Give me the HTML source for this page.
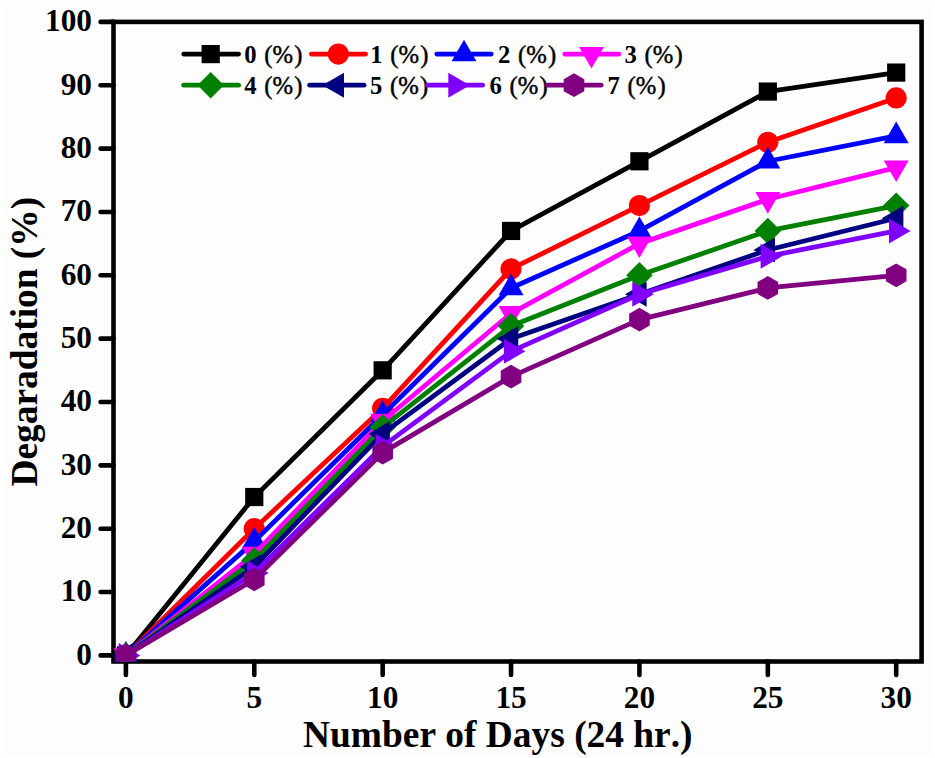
<!DOCTYPE html><html><head><meta charset="utf-8"><style>html,body{margin:0;padding:0;background:#fff;}svg{display:block;}text{font-family:"Liberation Serif",serif;font-weight:bold;fill:#000;font-kerning:none;}</style></head><body>
<svg width="935" height="758" viewBox="0 0 935 758">
<rect x="0" y="0" width="935" height="758" fill="#ffffff"/>
<rect x="2" y="2" width="931" height="753" fill="#fdfdfd"/>
<line x1="100.6" y1="655.40" x2="113.50" y2="655.40" stroke="#000" stroke-width="4.60" stroke-linecap="round"/>
<line x1="111.50" y1="655.40" x2="113.50" y2="655.40" stroke="#000" stroke-width="4.60"/>
<line x1="100.6" y1="592.05" x2="113.50" y2="592.05" stroke="#000" stroke-width="4.60" stroke-linecap="round"/>
<line x1="111.50" y1="592.05" x2="113.50" y2="592.05" stroke="#000" stroke-width="4.60"/>
<line x1="100.6" y1="528.70" x2="113.50" y2="528.70" stroke="#000" stroke-width="4.60" stroke-linecap="round"/>
<line x1="111.50" y1="528.70" x2="113.50" y2="528.70" stroke="#000" stroke-width="4.60"/>
<line x1="100.6" y1="465.35" x2="113.50" y2="465.35" stroke="#000" stroke-width="4.60" stroke-linecap="round"/>
<line x1="111.50" y1="465.35" x2="113.50" y2="465.35" stroke="#000" stroke-width="4.60"/>
<line x1="100.6" y1="402.00" x2="113.50" y2="402.00" stroke="#000" stroke-width="4.60" stroke-linecap="round"/>
<line x1="111.50" y1="402.00" x2="113.50" y2="402.00" stroke="#000" stroke-width="4.60"/>
<line x1="100.6" y1="338.65" x2="113.50" y2="338.65" stroke="#000" stroke-width="4.60" stroke-linecap="round"/>
<line x1="111.50" y1="338.65" x2="113.50" y2="338.65" stroke="#000" stroke-width="4.60"/>
<line x1="100.6" y1="275.30" x2="113.50" y2="275.30" stroke="#000" stroke-width="4.60" stroke-linecap="round"/>
<line x1="111.50" y1="275.30" x2="113.50" y2="275.30" stroke="#000" stroke-width="4.60"/>
<line x1="100.6" y1="211.95" x2="113.50" y2="211.95" stroke="#000" stroke-width="4.60" stroke-linecap="round"/>
<line x1="111.50" y1="211.95" x2="113.50" y2="211.95" stroke="#000" stroke-width="4.60"/>
<line x1="100.6" y1="148.60" x2="113.50" y2="148.60" stroke="#000" stroke-width="4.60" stroke-linecap="round"/>
<line x1="111.50" y1="148.60" x2="113.50" y2="148.60" stroke="#000" stroke-width="4.60"/>
<line x1="100.6" y1="85.25" x2="113.50" y2="85.25" stroke="#000" stroke-width="4.60" stroke-linecap="round"/>
<line x1="111.50" y1="85.25" x2="113.50" y2="85.25" stroke="#000" stroke-width="4.60"/>
<line x1="100.6" y1="21.90" x2="113.50" y2="21.90" stroke="#000" stroke-width="4.60" stroke-linecap="round"/>
<line x1="111.50" y1="21.90" x2="113.50" y2="21.90" stroke="#000" stroke-width="4.60"/>
<line x1="125.90" y1="661.50" x2="125.90" y2="674.9" stroke="#000" stroke-width="4.60" stroke-linecap="round"/>
<line x1="254.28" y1="661.50" x2="254.28" y2="674.9" stroke="#000" stroke-width="4.60" stroke-linecap="round"/>
<line x1="382.67" y1="661.50" x2="382.67" y2="674.9" stroke="#000" stroke-width="4.60" stroke-linecap="round"/>
<line x1="511.05" y1="661.50" x2="511.05" y2="674.9" stroke="#000" stroke-width="4.60" stroke-linecap="round"/>
<line x1="639.43" y1="661.50" x2="639.43" y2="674.9" stroke="#000" stroke-width="4.60" stroke-linecap="round"/>
<line x1="767.82" y1="661.50" x2="767.82" y2="674.9" stroke="#000" stroke-width="4.60" stroke-linecap="round"/>
<line x1="896.20" y1="661.50" x2="896.20" y2="674.9" stroke="#000" stroke-width="4.60" stroke-linecap="round"/>
<rect x="113.50" y="21.90" width="808.10" height="639.60" fill="none" stroke="#000" stroke-width="4.60"/>
<text x="92" y="664.80" font-size="31.3" text-anchor="end">0</text>
<text x="92" y="601.45" font-size="31.3" text-anchor="end">10</text>
<text x="92" y="538.10" font-size="31.3" text-anchor="end">20</text>
<text x="92" y="474.75" font-size="31.3" text-anchor="end">30</text>
<text x="92" y="411.40" font-size="31.3" text-anchor="end">40</text>
<text x="92" y="348.05" font-size="31.3" text-anchor="end">50</text>
<text x="92" y="284.70" font-size="31.3" text-anchor="end">60</text>
<text x="92" y="221.35" font-size="31.3" text-anchor="end">70</text>
<text x="92" y="158.00" font-size="31.3" text-anchor="end">80</text>
<text x="92" y="94.65" font-size="31.3" text-anchor="end">90</text>
<text x="92" y="31.30" font-size="31.3" text-anchor="end">100</text>
<text x="125.90" y="707.6" font-size="31.3" text-anchor="middle">0</text>
<text x="254.28" y="707.6" font-size="31.3" text-anchor="middle">5</text>
<text x="382.67" y="707.6" font-size="31.3" text-anchor="middle">10</text>
<text x="511.05" y="707.6" font-size="31.3" text-anchor="middle">15</text>
<text x="639.43" y="707.6" font-size="31.3" text-anchor="middle">20</text>
<text x="767.82" y="707.6" font-size="31.3" text-anchor="middle">25</text>
<text x="896.20" y="707.6" font-size="31.3" text-anchor="middle">30</text>
<text x="497.8" y="746.6" font-size="37.4" text-anchor="middle">Number of Days (24 hr.)</text>
<text transform="translate(37,341.7) rotate(-90)" x="0" y="0" font-size="37.4" text-anchor="middle">Degaradation (%)</text>
<defs><clipPath id="pc"><rect x="113.50" y="21.90" width="808.10" height="639.60"/></clipPath></defs><g clip-path="url(#pc)">
<polyline points="125.90,655.40 254.28,497.02 382.67,370.32 511.05,230.95 639.43,161.27 767.82,91.58 896.20,72.58" fill="none" stroke="#000000" stroke-width="4.80" stroke-linejoin="round" stroke-linecap="round"/>
<rect x="116.80" y="646.30" width="18.20" height="18.20" fill="#000000"/>
<rect x="245.18" y="487.92" width="18.20" height="18.20" fill="#000000"/>
<rect x="373.57" y="361.22" width="18.20" height="18.20" fill="#000000"/>
<rect x="501.95" y="221.85" width="18.20" height="18.20" fill="#000000"/>
<rect x="630.33" y="152.17" width="18.20" height="18.20" fill="#000000"/>
<rect x="758.72" y="82.48" width="18.20" height="18.20" fill="#000000"/>
<rect x="887.10" y="63.48" width="18.20" height="18.20" fill="#000000"/>
<polyline points="125.90,655.40 254.28,528.70 382.67,408.33 511.05,268.96 639.43,205.61 767.82,142.26 896.20,97.92" fill="none" stroke="#FF0000" stroke-width="4.80" stroke-linejoin="round" stroke-linecap="round"/>
<circle cx="125.90" cy="655.40" r="10.60" fill="#FF0000"/>
<circle cx="254.28" cy="528.70" r="10.60" fill="#FF0000"/>
<circle cx="382.67" cy="408.33" r="10.60" fill="#FF0000"/>
<circle cx="511.05" cy="268.96" r="10.60" fill="#FF0000"/>
<circle cx="639.43" cy="205.61" r="10.60" fill="#FF0000"/>
<circle cx="767.82" cy="142.26" r="10.60" fill="#FF0000"/>
<circle cx="896.20" cy="97.92" r="10.60" fill="#FF0000"/>
<polyline points="125.90,655.40 254.28,541.37 382.67,414.67 511.05,287.97 639.43,230.95 767.82,161.27 896.20,135.93" fill="none" stroke="#0000FF" stroke-width="4.80" stroke-linejoin="round" stroke-linecap="round"/>
<polygon points="125.90,641.00 138.37,662.60 113.43,662.60" fill="#0000FF"/>
<polygon points="254.28,526.97 266.75,548.57 241.81,548.57" fill="#0000FF"/>
<polygon points="382.67,400.27 395.14,421.87 370.20,421.87" fill="#0000FF"/>
<polygon points="511.05,273.57 523.52,295.17 498.58,295.17" fill="#0000FF"/>
<polygon points="639.43,216.55 651.90,238.15 626.96,238.15" fill="#0000FF"/>
<polygon points="767.82,146.87 780.29,168.47 755.35,168.47" fill="#0000FF"/>
<polygon points="896.20,121.53 908.67,143.13 883.73,143.13" fill="#0000FF"/>
<polyline points="125.90,655.40 254.28,554.04 382.67,421.00 511.05,313.31 639.43,243.62 767.82,199.28 896.20,167.60" fill="none" stroke="#FF00FF" stroke-width="4.80" stroke-linejoin="round" stroke-linecap="round"/>
<polygon points="125.90,669.80 113.43,648.20 138.37,648.20" fill="#FF00FF"/>
<polygon points="254.28,568.44 241.81,546.84 266.75,546.84" fill="#FF00FF"/>
<polygon points="382.67,435.40 370.20,413.81 395.14,413.81" fill="#FF00FF"/>
<polygon points="511.05,327.71 498.58,306.11 523.52,306.11" fill="#FF00FF"/>
<polygon points="639.43,258.02 626.96,236.43 651.90,236.42" fill="#FF00FF"/>
<polygon points="767.82,213.68 755.35,192.08 780.29,192.08" fill="#FF00FF"/>
<polygon points="896.20,182.00 883.73,160.40 908.67,160.40" fill="#FF00FF"/>
<polyline points="125.90,655.40 254.28,560.38 382.67,427.34 511.05,325.98 639.43,275.30 767.82,230.95 896.20,205.61" fill="none" stroke="#008000" stroke-width="4.80" stroke-linejoin="round" stroke-linecap="round"/>
<polygon points="125.90,642.20 139.10,655.40 125.90,668.60 112.70,655.40" fill="#008000"/>
<polygon points="254.28,547.17 267.48,560.38 254.28,573.58 241.08,560.38" fill="#008000"/>
<polygon points="382.67,414.14 395.87,427.34 382.67,440.54 369.47,427.34" fill="#008000"/>
<polygon points="511.05,312.78 524.25,325.98 511.05,339.18 497.85,325.98" fill="#008000"/>
<polygon points="639.43,262.10 652.63,275.30 639.43,288.50 626.23,275.30" fill="#008000"/>
<polygon points="767.82,217.75 781.02,230.95 767.82,244.15 754.62,230.95" fill="#008000"/>
<polygon points="896.20,192.41 909.40,205.61 896.20,218.81 883.00,205.61" fill="#008000"/>
<polyline points="125.90,655.40 254.28,566.71 382.67,433.67 511.05,338.65 639.43,294.30 767.82,249.96 896.20,218.28" fill="none" stroke="#000080" stroke-width="4.80" stroke-linejoin="round" stroke-linecap="round"/>
<polygon points="111.50,655.40 133.10,642.93 133.10,667.87" fill="#000080"/>
<polygon points="239.88,566.71 261.48,554.24 261.48,579.18" fill="#000080"/>
<polygon points="368.27,433.67 389.87,421.20 389.87,446.15" fill="#000080"/>
<polygon points="496.65,338.65 518.25,326.18 518.25,351.12" fill="#000080"/>
<polygon points="625.03,294.30 646.63,281.83 646.63,306.78" fill="#000080"/>
<polygon points="753.42,249.96 775.02,237.49 775.02,262.43" fill="#000080"/>
<polygon points="881.80,218.28 903.40,205.81 903.40,230.76" fill="#000080"/>
<polyline points="125.90,655.40 254.28,573.04 382.67,446.34 511.05,351.32 639.43,294.30 767.82,256.29 896.20,230.95" fill="none" stroke="#8000FF" stroke-width="4.80" stroke-linejoin="round" stroke-linecap="round"/>
<polygon points="140.30,655.40 118.70,667.87 118.70,642.93" fill="#8000FF"/>
<polygon points="268.68,573.04 247.08,585.52 247.08,560.57" fill="#8000FF"/>
<polygon points="397.07,446.34 375.47,458.82 375.47,433.87" fill="#8000FF"/>
<polygon points="525.45,351.32 503.85,363.79 503.85,338.85" fill="#8000FF"/>
<polygon points="653.83,294.30 632.23,306.78 632.23,281.83" fill="#8000FF"/>
<polygon points="782.22,256.29 760.62,268.77 760.62,243.82" fill="#8000FF"/>
<polygon points="910.60,230.95 889.00,243.43 889.00,218.48" fill="#8000FF"/>
<polyline points="125.90,655.40 254.28,579.38 382.67,452.68 511.05,376.66 639.43,319.64 767.82,287.97 896.20,275.30" fill="none" stroke="#800080" stroke-width="4.80" stroke-linejoin="round" stroke-linecap="round"/>
<polygon points="125.90,643.50 136.21,649.45 136.21,661.35 125.90,667.30 115.59,661.35 115.59,649.45" fill="#800080"/>
<polygon points="254.28,567.48 264.59,573.43 264.59,585.33 254.28,591.28 243.98,585.33 243.98,573.43" fill="#800080"/>
<polygon points="382.67,440.78 392.97,446.73 392.97,458.63 382.67,464.58 372.36,458.63 372.36,446.73" fill="#800080"/>
<polygon points="511.05,364.76 521.36,370.71 521.36,382.61 511.05,388.56 500.74,382.61 500.74,370.71" fill="#800080"/>
<polygon points="639.43,307.75 649.74,313.69 649.74,325.59 639.43,331.54 629.13,325.59 629.13,313.69" fill="#800080"/>
<polygon points="767.82,276.07 778.12,282.02 778.12,293.92 767.82,299.87 757.51,293.92 757.51,282.02" fill="#800080"/>
<polygon points="896.20,263.40 906.51,269.35 906.51,281.25 896.20,287.20 885.89,281.25 885.89,269.35" fill="#800080"/>
</g>
<line x1="183.70" y1="54.10" x2="238.60" y2="54.10" stroke="#000000" stroke-width="4.80" stroke-linecap="round"/>
<rect x="201.60" y="45.00" width="18.20" height="18.20" fill="#000000"/>
<text x="244.20" y="62.70" font-size="24.7">0<tspan font-weight="normal" stroke="#000" stroke-width="0.45"> <tspan dx="1.5">(%</tspan><tspan dx="1.2">)</tspan></tspan></text>
<line x1="311.40" y1="54.10" x2="365.60" y2="54.10" stroke="#FF0000" stroke-width="4.80" stroke-linecap="round"/>
<circle cx="338.30" cy="54.10" r="10.60" fill="#FF0000"/>
<text x="370.20" y="62.70" font-size="24.7">1<tspan font-weight="normal" stroke="#000" stroke-width="0.45"> <tspan dx="1.5">(%</tspan><tspan dx="1.2">)</tspan></tspan></text>
<line x1="436.80" y1="54.10" x2="491.20" y2="54.10" stroke="#0000FF" stroke-width="4.80" stroke-linecap="round"/>
<polygon points="464.00,39.70 476.47,61.30 451.53,61.30" fill="#0000FF"/>
<text x="498.10" y="62.70" font-size="24.7">2<tspan font-weight="normal" stroke="#000" stroke-width="0.45"> <tspan dx="1.5">(%</tspan><tspan dx="1.2">)</tspan></tspan></text>
<line x1="564.80" y1="54.10" x2="618.90" y2="54.10" stroke="#FF00FF" stroke-width="4.80" stroke-linecap="round"/>
<polygon points="591.50,68.50 579.03,46.90 603.97,46.90" fill="#FF00FF"/>
<text x="624.60" y="62.70" font-size="24.7">3<tspan font-weight="normal" stroke="#000" stroke-width="0.45"> <tspan dx="1.5">(%</tspan><tspan dx="1.2">)</tspan></tspan></text>
<line x1="183.70" y1="85.20" x2="238.60" y2="85.20" stroke="#008000" stroke-width="4.80" stroke-linecap="round"/>
<polygon points="210.70,72.00 223.90,85.20 210.70,98.40 197.50,85.20" fill="#008000"/>
<text x="244.20" y="93.90" font-size="24.7">4<tspan font-weight="normal" stroke="#000" stroke-width="0.45"> <tspan dx="1.5">(%</tspan><tspan dx="1.2">)</tspan></tspan></text>
<line x1="309.60" y1="85.20" x2="364.00" y2="85.20" stroke="#000080" stroke-width="4.80" stroke-linecap="round"/>
<polygon points="322.40,85.20 344.00,72.73 344.00,97.67" fill="#000080"/>
<text x="370.10" y="93.90" font-size="24.7">5<tspan font-weight="normal" stroke="#000" stroke-width="0.45"> <tspan dx="1.5">(%</tspan><tspan dx="1.2">)</tspan></tspan></text>
<line x1="427.40" y1="85.20" x2="482.60" y2="85.20" stroke="#8000FF" stroke-width="4.80" stroke-linecap="round"/>
<polygon points="469.90,85.20 448.30,97.67 448.30,72.73" fill="#8000FF"/>
<text x="489.60" y="93.90" font-size="24.7">6<tspan font-weight="normal" stroke="#000" stroke-width="0.45"> <tspan dx="1.5">(%</tspan><tspan dx="1.2">)</tspan></tspan></text>
<line x1="547.50" y1="85.20" x2="601.10" y2="85.20" stroke="#800080" stroke-width="4.80" stroke-linecap="round"/>
<polygon points="574.00,73.30 584.31,79.25 584.31,91.15 574.00,97.10 563.69,91.15 563.69,79.25" fill="#800080"/>
<text x="607.50" y="93.90" font-size="24.7">7<tspan font-weight="normal" stroke="#000" stroke-width="0.45"> <tspan dx="1.5">(%</tspan><tspan dx="1.2">)</tspan></tspan></text>
</svg></body></html>
